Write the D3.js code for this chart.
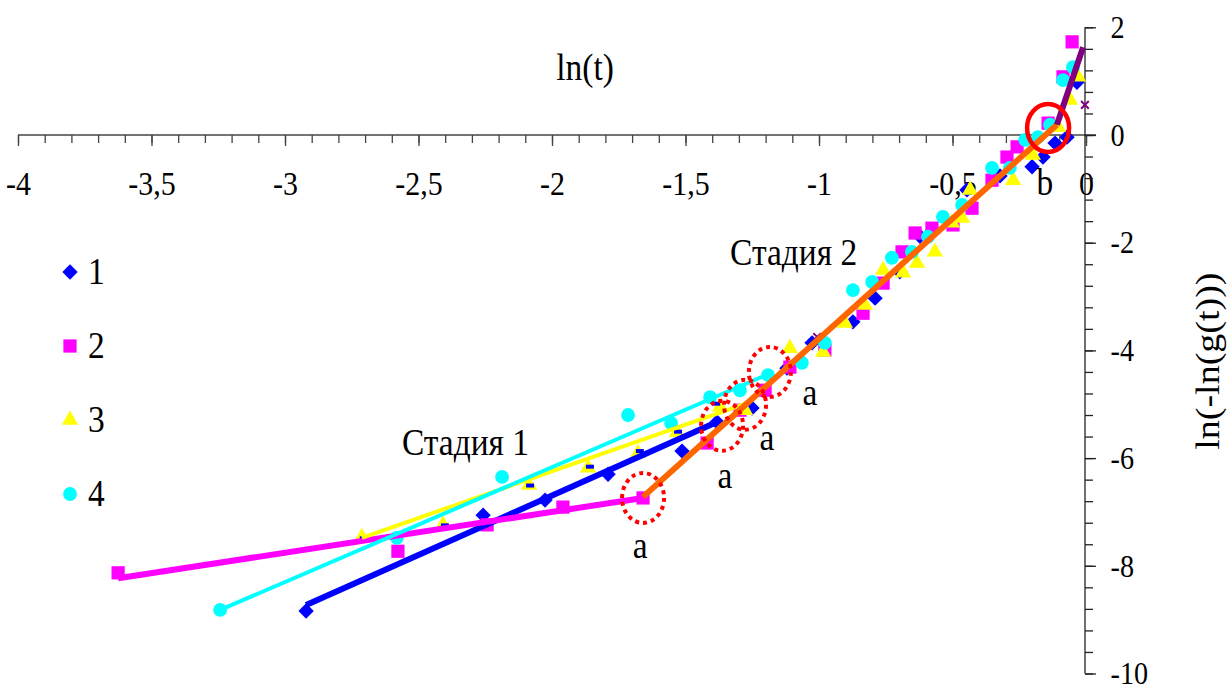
<!DOCTYPE html>
<html>
<head>
<meta charset="utf-8">
<script src="https://cdn.jsdelivr.net/npm/d3@7"></script>
<style>
  body { margin: 0; background: #fff; }
  svg { display: block; font-family: "Liberation Serif", "Times New Roman", serif; }
</style>
</head>
<body>
<script>
// ln(t) vs ln(-ln(g(t))) for 4 samples
const series1 = [[-2.921,-8.84],[-2.258,-7.06],[-2.026,-6.78],[-1.790,-6.30],[-1.513,-5.87],[-1.382,-5.33],
  [-1.251,-5.07],[-1.120,-4.33],[-1.026,-3.86],[-0.873,-3.47],[-0.790,-3.03],[-0.697,-2.54],[-0.622,-1.88],
  [-0.446,-1.02],[-0.322,-0.76],[-0.202,-0.59],[-0.161,-0.41],[-0.116,-0.15],[-0.071,-0.04],[-0.034,0.98]];
const series2 = [[-3.625,-8.13],[-2.577,-7.73],[-2.243,-7.24],[-1.959,-6.91],[-1.659,-6.74],[-1.419,-5.72],
  [-1.296,-5.11],[-1.202,-4.74],[-1.109,-4.31],[-0.978,-3.99],[-0.835,-3.31],[-0.760,-2.75],[-0.689,-2.17],
  [-0.640,-1.82],[-0.577,-1.73],[-0.498,-1.67],[-0.427,-1.36],[-0.352,-0.84],[-0.296,-0.41],[-0.258,-0.22],
  [-0.142,0.22],[-0.086,1.08],[-0.052,1.73]];
const series3 = [[-2.712,-7.47],[-2.408,-7.24],[-2.086,-6.50],[-1.865,-6.18],[-1.678,-5.91],[-1.532,-5.52],
  [-1.371,-5.05],[-1.277,-5.11],[-1.109,-3.96],[-0.985,-4.03],[-0.903,-3.49],[-0.828,-3.16],[-0.760,-2.51],
  [-0.685,-2.56],[-0.633,-2.38],[-0.566,-2.17],[-0.502,-1.63],[-0.464,-1.54],[-0.434,-1.02],[-0.273,-0.84],
  [-0.199,-0.37],[-0.105,0.15],[-0.060,0.65],[-0.030,1.08]];
const series4 = [[-3.243,-8.82],[-2.581,-7.48],[-2.187,-6.35],[-1.715,-5.20],[-1.554,-5.35],[-1.408,-4.87],
  [-1.296,-4.74],[-1.191,-4.46],[-1.064,-4.23],[-0.978,-3.86],[-0.873,-2.88],[-0.801,-2.73],[-0.727,-2.28],
  [-0.652,-2.17],[-0.592,-1.89],[-0.536,-1.52],[-0.464,-1.30],[-0.352,-0.61],[-0.285,-0.61],[-0.228,-0.09],
  [-0.180,-0.04],[-0.135,0.19],[-0.086,1.02],[-0.049,1.26]];
const dashPts = [[-2.705,-7.48],[-2.401,-7.24],[-2.082,-6.50],[-1.858,-6.15],[-1.671,-5.86],[-1.528,-5.50],[-1.385,-4.98]];
const crossPts = [[-1.007,-3.75],[-0.004,0.56]];

// fitted straight lines: stage 1 per sample, stage 2 and the final part
const fitLines = [
  { name: "1", color: "#0000ff", w: 6, pts: [[-2.921,-8.73],[-1.382,-5.33]] },
  { name: "2", color: "#ff00ff", w: 6, pts: [[-3.625,-8.23],[-1.659,-6.74]] },
  { name: "3", color: "#ffff00", w: 4, pts: [[-2.712,-7.48],[-1.258,-4.96]] },
  { name: "4", color: "#00ffff", w: 4, pts: [[-3.243,-8.82],[-1.213,-4.49]] },
  { name: "stage2", color: "#ff6600", w: 6, pts: [[-1.659,-6.72],[-0.109,0.19]] },
  { name: "stage3", color: "#800080", w: 6, pts: [[-0.109,0.19],[-0.011,1.63]] }
];

const xMajor = [-4,-3.5,-3,-2.5,-2,-1.5,-1,-0.5,0];
const yMajor = [2,0,-2,-4,-6,-8,-10];
const legendNames = ["1","2","3","4"];

// annotations (data units)
const dottedRings = [[-1.659,-6.74],[-1.363,-5.40],[-1.277,-5.01],[-1.184,-4.40]];
const solidRing = [-0.142,0.13];
const aLabels = [[-1.670,-7.85],[-1.352,-6.56],[-1.195,-5.85],[-1.034,-5.01]];

const W = 1229, H = 684, SX = 0.88;
const svg = d3.select("body").append("svg").attr("width", W).attr("height", H);

const x = d3.scaleLinear().domain([-4, 0]).range([18, 1086]);
const y = d3.scaleLinear().domain([-10, 2]).range([673.5, 27.3]);

function label(px, py, str, size, anchor) {
  return svg.append("text")
    .attr("transform", `translate(${px},${py}) scale(${SX},1)`)
    .attr("text-anchor", anchor || "middle")
    .style("font-size", size + "px")
    .attr("fill", "#000")
    .text(str);
}

// x axis (ticks hang below the zero line)
const gx = svg.append("g").attr("transform", `translate(0,${y(0)})`);
gx.append("g").call(d3.axisBottom(x).tickValues(d3.range(0, 41).map(i => -4 + i / 10)).tickSize(8).tickFormat(""))
  .call(g => g.select(".domain").remove());
gx.append("g").call(d3.axisBottom(x).tickValues(xMajor).tickSize(11).tickPadding(25)
    .tickFormat(d => String(d).replace(".", ",")))
  .call(g => g.select(".domain").remove())
  .call(g => g.selectAll("text").attr("transform", `scale(${SX},1)`).style("font-size", "34px")
    .attr("font-family", "Liberation Serif").attr("fill", "#000"));
gx.append("line").attr("x1", x(-4)).attr("x2", x(0) + 10).attr("stroke", "#444").attr("stroke-width", 1.3);
gx.selectAll(".tick line").attr("stroke", "#444").attr("stroke-width", 1.3);

// y axis on the right
const gy = svg.append("g").attr("transform", `translate(${x(0) - 1},0)`);
gy.append("g").call(d3.axisRight(y).tickValues(d3.range(0, 31).map(i => -10 + i * 0.4)).tickSize(8).tickFormat(""))
  .call(g => g.select(".domain").remove());
gy.append("g").call(d3.axisRight(y).tickValues(yMajor).tickSize(11).tickPadding(18).tickFormat(d => d))
  .call(g => g.select(".domain").remove())
  .call(g => g.selectAll("text").attr("transform", `scale(${SX},1)`).style("font-size", "32px")
    .attr("font-family", "Liberation Serif").attr("fill", "#000"));
gy.append("line").attr("y1", y(2)).attr("y2", y(-10)).attr("stroke", "#222").attr("stroke-width", 1.3);
gy.selectAll(".tick line").attr("stroke", "#222").attr("stroke-width", 1.3);

// axis titles
label(x(-1.876), y(1.02), "ln(t)", 38);
svg.append("text")
  .attr("transform", `translate(1219,${y(-4.2)}) rotate(-90) scale(1,${SX})`)
  .attr("text-anchor", "middle").style("font-size", "38px").text("ln(-ln(g(t)))");

// markers
const sym = {
  "1": { type: d3.symbolSquare, size: 118, rot: 45, color: "#0000ff" },
  "2": { type: d3.symbolSquare, size: 175, rot: 0, color: "#ff00ff" },
  "3": { type: d3.symbolTriangle, size: 115, rot: 0, color: "#ffff00" },
  "4": { type: d3.symbolCircle, size: 150, rot: 0, color: "#00ffff" }
};
const allSeries = [["1", series1], ["2", series2], ["3", series3], ["4", series4]];

allSeries.forEach(([k, pts]) => {
  const s = sym[k];
  svg.append("g").selectAll("path").data(pts).join("path")
    .attr("d", d3.symbol(s.type, s.size))
    .attr("transform", d => `translate(${x(d[0])},${y(d[1])}) rotate(${s.rot})`)
    .attr("fill", s.color);
});

// small blue dash markers sitting on the stage-1 triangles
svg.append("g").selectAll("rect").data(dashPts).join("rect")
  .attr("x", d => x(d[0]) - 4).attr("y", d => y(d[1]) - 1.5)
  .attr("width", 8).attr("height", 4).attr("fill", "#0000ff");

// purple crosses
svg.append("g").selectAll("path").data(crossPts).join("path")
  .attr("d", d3.symbol(d3.symbolX, 40))
  .attr("transform", d => `translate(${x(d[0])},${y(d[1])})`)
  .attr("stroke", "#800080").attr("stroke-width", 2).attr("fill", "none");

// fitted lines
const line = d3.line().x(d => x(d[0])).y(d => y(d[1]));
svg.append("g").attr("fill", "none").selectAll("path").data(fitLines).join("path")
  .attr("d", d => line(d.pts))
  .attr("stroke", d => d.color).attr("stroke-width", d => d.w);

// red rings
svg.append("g").selectAll("ellipse").data(dottedRings).join("ellipse")
  .attr("cx", d => x(d[0])).attr("cy", d => y(d[1])).attr("rx", 21).attr("ry", 25)
  .attr("fill", "none").attr("stroke", "#ff0000").attr("stroke-width", 4).attr("stroke-dasharray", "4,4");
svg.append("ellipse").attr("cx", x(solidRing[0])).attr("cy", y(solidRing[1])).attr("rx", 21).attr("ry", 24)
  .attr("fill", "none").attr("stroke", "#ff0000").attr("stroke-width", 4.5);

// annotations
label(x(-2.562), y(-5.94), "Стадия 1", 38, "start");
label(x(-1.333), y(-2.41), "Стадия 2", 38, "start");
aLabels.forEach(d => label(x(d[0]), y(d[1]), "a", 38));
label(x(-0.154), y(-1.11), "b", 38);

// legend
legendNames.forEach((k, i) => {
  const s = sym[k];
  const cy = 272 + i * 74;
  svg.append("path").attr("d", d3.symbol(s.type, s.size))
    .attr("transform", `translate(70,${cy}) rotate(${s.rot})`).attr("fill", s.color);
  label(88, cy + 12, k, 38, "start");
});
</script>
</body>
</html>
